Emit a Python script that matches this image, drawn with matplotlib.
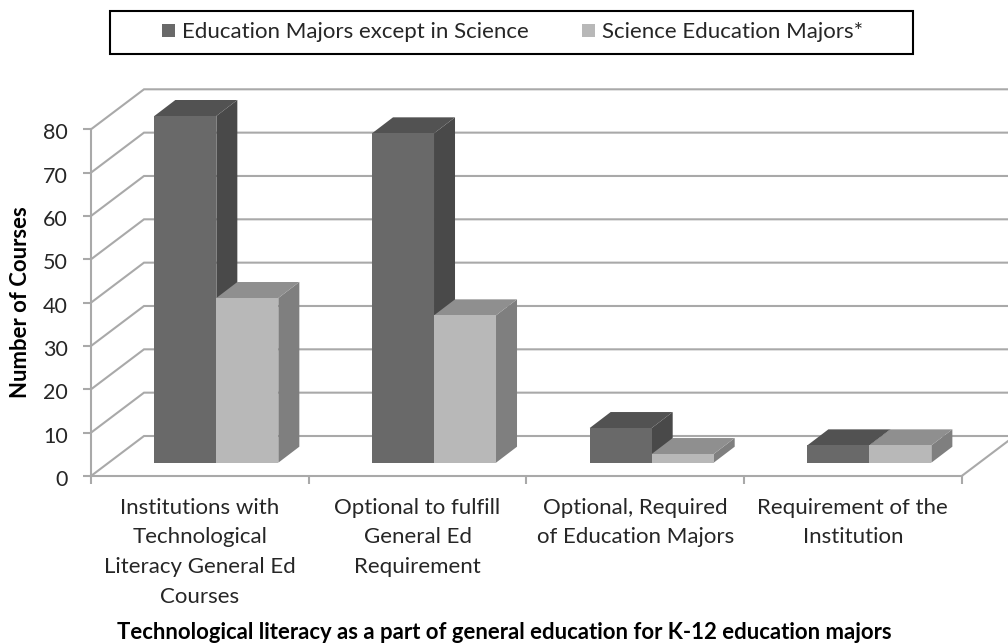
import matplotlib
matplotlib.use('Agg')
import matplotlib.pyplot as plt
from matplotlib.patches import Polygon, Patch, Rectangle
from matplotlib.transforms import ScaledTranslation

# Data
categories = ['Institutions with\nTechnological\nLiteracy General Ed\nCourses',
              'Optional to fulfill\nGeneral Ed\nRequirement',
              'Optional, Required\nof Education Majors',
              'Requirement of the\nInstitution']
education = [80, 76, 8, 4]
science = [38, 34, 2, 4]
yticks = [0, 10, 20, 30, 40, 50, 60, 70, 80]

plt.rcParams['font.family'] = ['Lato', 'DejaVu Sans']

grid = '#a9a9a9'
text_col = '#262626'
dark = ('#696969', '#525252', '#494949')    # front, top, side
light = ('#b8b8b8', '#8f8f8f', '#7f7f7f')

fig = plt.figure(figsize=(10.08, 6.43), dpi=100)
ax = fig.add_axes([91 / 1008, (643 - 476) / 643, 870.7 / 1008, 346.7 / 643])
ax.set_xlim(0, 4)
ax.set_ylim(0, 80)

# depth of the fake 3d box, in data units
px_x = 4 / 870.7
px_y = 80 / 346.7
wall_dx = 53 * px_x
wall_dy = 40 * px_y
bar_dx = 21 * px_x
bar_dy = 16 * px_y
front_dx = 16.5 * px_x
front_dy = 13.3 * px_y
bar_w = 62 * px_x

# walls
for v in yticks:
    ax.plot([0, wall_dx, 4 + wall_dx], [v, v + wall_dy, v + wall_dy], color=grid, lw=1.5,
            clip_on=False, zorder=1, solid_joinstyle='miter')
ax.plot([4, 4 + wall_dx], [0, wall_dy], color=grid, lw=1.5, clip_on=False, zorder=1)


def draw_bar(x, value, cols, z):
    x0 = x + front_dx
    x1 = x0 + bar_w
    y0 = front_dy
    y1 = value + front_dy
    front = [(x0, y0), (x1, y0), (x1, y1), (x0, y1)]
    top = [(x0, y1), (x1, y1), (x1 + bar_dx, y1 + bar_dy), (x0 + bar_dx, y1 + bar_dy)]
    side = [(x1, y0), (x1 + bar_dx, y0 + bar_dy), (x1 + bar_dx, y1 + bar_dy), (x1, y1)]
    for pts, c in zip((side, top, front), (cols[2], cols[1], cols[0])):
        ax.add_patch(Polygon(pts, closed=True, facecolor=c, edgecolor='none',
                             clip_on=False, zorder=z))


for i in range(len(categories)):
    center = i + 0.5
    draw_bar(center - bar_w, education[i], dark, 3)
    draw_bar(center, science[i], light, 4)

# axes
for s in ['top', 'right']:
    ax.spines[s].set_visible(False)
for s in ['left', 'bottom']:
    ax.spines[s].set_color(grid)
    ax.spines[s].set_linewidth(1.5)
ax.set_yticks(yticks)
ax.set_xticks([0, 1, 2, 3, 4])
ax.set_xticklabels([])
ax.set_xticks([0.5, 1.5, 2.5, 3.5], minor=True)
ax.set_xticklabels(categories, minor=True, linespacing=1.607)
ax.tick_params(axis='both', which='major', color=grid, width=1.5, length=6, labelsize=15.5,
               labelcolor=text_col, pad=10.5)
ax.tick_params(axis='x', which='minor', length=0, labelsize=16, labelcolor=text_col, pad=15.5)
ax.set_axisbelow(True)
for lbl in ax.get_yticklabels():
    lbl.set_transform(lbl.get_transform() + ScaledTranslation(0, -1.5 / 72, fig.dpi_scale_trans))

fig.text(21 / 1008, 1 - 302 / 643, 'Number of Courses', rotation=90, fontsize=15.9,
         fontweight='bold', color='black', ha='center', va='center')
fig.text(504 / 1008, 1 - 632.5 / 643,
         'Technological literacy as a part of general education for K-12 education majors',
         fontsize=15.9, fontweight='bold', color='black', ha='center', va='center')

# legend frame is wider than the default padding gives, so it is drawn by hand
fig.add_artist(Rectangle((109.5 / 1008, 1 - 54 / 643), 803.5 / 1008, 43 / 643, transform=fig.transFigure,
                         facecolor='white', edgecolor='black', lw=1.5))
handles = [Patch(facecolor=dark[0], label='Education Majors except in Science'),
           Patch(facecolor=light[0], label='Science Education Majors*')]
fig.legend(handles=handles, ncol=2, loc='center', bbox_to_anchor=(513 / 1008, 1 - 32.5 / 643),
           fontsize=16, frameon=False, handlelength=0.55, handleheight=0.55, handletextpad=0.35,
           columnspacing=2.4, labelcolor=text_col)

plt.savefig('out.png', dpi=100)
